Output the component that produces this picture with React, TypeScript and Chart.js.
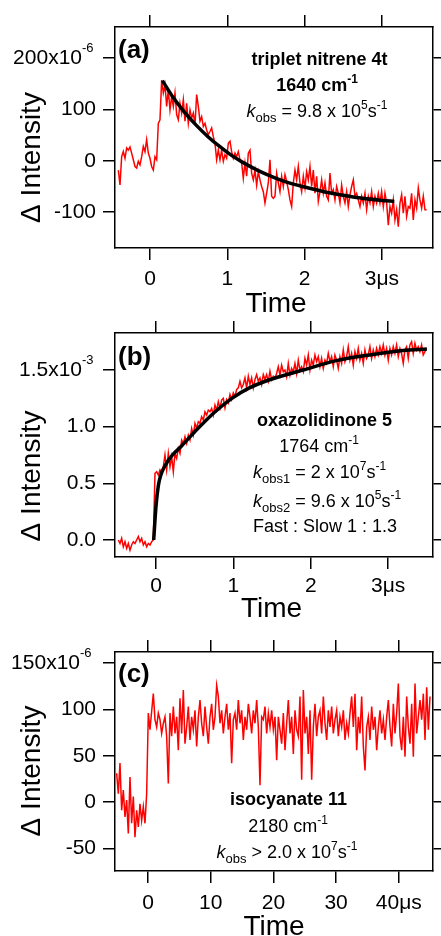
import React, { useEffect, useRef } from 'react';
import { Chart, registerables } from 'chart.js';
Chart.register(...registerables);

const FONT = '"Liberation Sans", Arial, Helvetica, sans-serif';

// ---------------- Panel (a): triplet nitrene 4t ----------------
const A_T0 = -0.41;
const A_DT = 0.02156;
const A_RED = [
  -18, -47, 8, 18, 5, 25, 21, 27, 15, 2,
  -11, -14, -1, -8, 8, 28, 18, 41, 15, 5,
  -11, -18, 8, 2, 73, 80, 157, 132, 148, 106,
  138, 99, 125, 106, 132, 90, 80, 112, 93, 119,
  77, 112, 73, 99, 83, 93, 70, 129, 106, 77,
  86, 67, 73, 60, 51, 57, 64, 47, 34, 2,
  21, 2, 21, -1, 12, 5, 34, 38, 18, 5,
  15, 8, 18, 2, -4, -34, -4, -30, 15, 21,
  -24, -37, -18, -47, -21, -37, -50, -60, -82, -63,
  -43, 2, -69, -73, -69,
  -24, -43, -60, -30, -50, -27, -40, -56, -76, -89,
  -43, -18, -37, -11, -43, -60, -30, -53, -21, -37,
  -11, -50, -18, -63, -30, -79, -60, -37, -63, -43,
  -69, -76, -24, -63, -56, -76, -50, -63, -82, -47,
  -69, -82, -60, -89, -66, -50, -37, -69, -63, -76,
  -89, -69, -82, -63, -95, -69, -82, -60, -89, -69,
  -82, -63, -82, -60, -89, -63, -82, -125, -89, -102,
  -76, -115, -95, -128, -82, -66, -102, -69, -108, -89,
  -92, -63, -115, -76, -92, -53, -76, -92, -69, -95, -95,
];
const A_FIT_T = [0.16, 0.3, 0.45, 0.6, 0.75, 0.9, 1.05, 1.2, 1.4, 1.6, 1.8, 2.0, 2.25, 2.5, 2.75, 3.0, 3.16];
const A_FIT_V = [156, 123, 94, 69, 47, 28, 11, -3, -19, -32, -43, -51, -60, -67, -73, -77, -79];
const A_XTICKS = [0, 1, 2, 3];
const A_YTICKS = [-100, 0, 100, 200];

// ---------------- Panel (b): oxazolidinone 5 (units 1e-3) ----------------
const B_T0 = -0.487;
const B_DT = 0.02153;
const B_RED = [
  0.0, -0.03, 0.015, -0.06, -0.015, -0.074, -0.03, -0.09, -0.044, -0.015,
  -0.03, 0.0, 0.03, -0.015, 0.015, -0.044, -0.015, -0.06, -0.03, -0.044,
  -0.015, 0.0,
  0.588, 0.603, 0.574, 0.618, 0.588, 0.647, 0.75, 0.618, 0.765, 0.647,
  0.735, 0.603, 0.765, 0.721, 0.809, 0.765, 0.882, 0.853, 0.912, 0.853,
  0.926, 0.882, 0.985, 0.926, 1.03, 0.985, 1.044, 1.03, 1.088, 1.059,
  1.132, 1.103, 1.147, 1.132, 1.162, 1.103, 1.191, 1.147, 1.221, 1.162,
  1.235, 1.25, 1.166, 1.24, 1.21, 1.284, 1.24, 1.298, 1.269, 1.328,
  1.343, 1.401, 1.343, 1.372, 1.431, 1.343, 1.446, 1.372, 1.431, 1.343,
  1.416, 1.46, 1.401, 1.431, 1.372, 1.46, 1.416, 1.46, 1.401, 1.49,
  1.416, 1.446, 1.431,
  1.47, 1.529, 1.456, 1.544, 1.485, 1.5, 1.441, 1.558, 1.456, 1.514,
  1.485, 1.558, 1.47, 1.588, 1.5, 1.529, 1.485, 1.603, 1.544, 1.633,
  1.5, 1.588, 1.544, 1.633, 1.574, 1.618, 1.53, 1.603, 1.515, 1.588,
  1.559, 1.647, 1.574, 1.618, 1.53, 1.633, 1.588, 1.515, 1.618, 1.559,
  1.677, 1.574, 1.618, 1.706, 1.588, 1.647, 1.544, 1.662, 1.603, 1.691,
  1.588, 1.647, 1.559, 1.677, 1.603, 1.633, 1.706, 1.603, 1.677, 1.618,
  1.691, 1.633, 1.706, 1.647, 1.721, 1.633, 1.691, 1.588, 1.691, 1.633,
  1.706, 1.647, 1.721, 1.618, 1.691, 1.647, 1.559, 1.677, 1.706, 1.603,
  1.721, 1.75, 1.647, 1.736, 1.677, 1.706, 1.662, 1.721, 1.633, 1.662,
  1.691,
];
const B_FIT_T = [-0.03, 0.0, 0.03, 0.06, 0.12, 0.2, 0.33, 0.55, 0.76, 0.98, 1.2, 1.45, 1.9, 2.33, 2.76, 3.19, 3.5];
const B_FIT_V = [0, 0.3, 0.48, 0.57, 0.66, 0.74, 0.83, 0.99, 1.13, 1.25, 1.34, 1.41, 1.5, 1.583, 1.633, 1.672, 1.686];
const B_XTICKS = [0, 1, 2, 3];
const B_YTICKS = [0, 0.5, 1.0, 1.5];

// ---------------- Panel (c): isocyanate 11 ----------------
const C_T0 = -4.997;
const C_DT = 0.2658;
const C_RED = [
  31, 9, 42, -9, 13, -16, 2, -34, 27, -23,
  6, -38, -9, -27, -2, -20, -5, -23, 9, 96,
  78, 98, 117, 89, 81, 96, 89, 74, 85, 92,
  71, 20, 96, 71, 103, 74, 92, 56, 112, 74,
  121, 63, 81, 103, 67, 92, 78, 99, 60, 92,
  110, 85, 71, 103, 81, 63, 92, 106, 78, 92,
  126, 114, 85, 99, 74, 92, 106, 78, 96, 42,
  89, 96, 78, 110, 85, 99, 67, 92, 78, 106,
  92, 74, 99, 85, 110, 81, 18, 92, 89, 103,
  74, 96, 81, 99, 78, 92,
  45, 92, 78, 63, 96, 56, 85, 110, 74, 92,
  52, 99, 78, 71, 114, 24, 121, 74, 92, 52,
  99, 24, 81, 106, 71, 92, 99, 74, 114, 85,
  67, 99, 81, 103, 74, 89, 99, 71, 92, 81,
  99, 67, 85, 74, 96, 114, 81, 117, 56, 92,
  74, 114, 60, 34, 81, 92, 67, 103, 78, 92,
  56, 81, 99, 74, 89, 67, 92, 110, 81, 60,
  106, 74, 96, 128, 71, 56, 92, 49, 114, 81,
  63, 106, 49, 128, 74, 92, 110, 89, 117, 67,
  124, 78, 114,
];
const C_XTICKS = [0, 10, 20, 30, 40];
const C_YTICKS = [-50, 0, 50, 100, 150];

// ---------------- layout / style ----------------
type Seg = { t: string; size?: number; bold?: boolean; italic?: boolean; dy?: number };
const sup = (t: string, bold = false): Seg => ({ t, size: 12, bold, dy: -8 });
const sub = (t: string): Seg => ({ t, size: 13, dy: 5 });
const txt = (t: string, bold = false): Seg => ({ t, bold });
const kk: Seg = { t: 'k', italic: true };

type TextLine = { segs: Seg[]; x: number; y: number; align: 'left' | 'center' };

type Panel = {
  top: number; height: number; areaTop: number; areaBottom: number;
  xMin: number; xMax: number; yMin: number; yMax: number;
  xTicks: number[]; yTicks: number[]; xPad: number;
  yFmt: (v: number) => string; yTopTick: number; yTopMain: string; yTopExp: string; yTopRight: number;
  red: { x: number; y: number }[]; fit: { x: number; y: number }[] | null;
  letter: string; letterY: number; lines: TextLine[];
  yTitleY: number; timeX: number; timeY: number;
};

const series = (t0: number, dt: number, vals: number[]) => vals.map((v, i) => ({ x: t0 + i * dt, y: v }));
const pairs = (ts: number[], vs: number[]) => ts.map((t, i) => ({ x: t, y: vs[i] }));

const PANELS: Panel[] = [
  {
    top: 0, height: 322, areaTop: 27, areaBottom: 248,
    xMin: -0.453, xMax: 3.661, yMin: -169.6, yMax: 260.4,
    xTicks: A_XTICKS, yTicks: A_YTICKS, xPad: 7,
    yFmt: (v) => String(v), yTopTick: 200, yTopMain: '200x10', yTopExp: '-6', yTopRight: 82,
    red: series(A_T0, A_DT, A_RED), fit: pairs(A_FIT_T, A_FIT_V),
    letter: '(a)', letterY: 58,
    lines: [
      { segs: [txt('triplet nitrene 4t', true)], x: 319.5, y: 65, align: 'center' },
      { segs: [txt('1640 cm', true), sup('-1', true)], x: 317, y: 91, align: 'center' },
      { segs: [kk, sub('obs'), txt(' = 9.8 x 10'), sup('5'), txt('s'), sup('-1')], x: 317, y: 117, align: 'center' },
    ],
    yTitleY: 157.5, timeX: 276, timeY: 312,
  },
  {
    top: 310, height: 312, areaTop: 23, areaBottom: 247,
    xMin: -0.53, xMax: 3.579, yMin: -0.15, yMax: 1.827,
    xTicks: B_XTICKS, yTicks: B_YTICKS, xPad: 5,
    yFmt: (v) => v.toFixed(1), yTopTick: 1.5, yTopMain: '1.5x10', yTopExp: '-3', yTopRight: 82,
    red: series(B_T0, B_DT, B_RED), fit: pairs(B_FIT_T, B_FIT_V),
    letter: '(b)', letterY: 55,
    lines: [
      { segs: [txt('oxazolidinone 5', true)], x: 324.5, y: 116, align: 'center' },
      { segs: [txt('1764 cm'), sup('-1')], x: 319, y: 142, align: 'center' },
      { segs: [kk, sub('obs1'), txt(' = 2 x 10'), sup('7'), txt('s'), sup('-1')], x: 253, y: 168, align: 'left' },
      { segs: [kk, sub('obs2'), txt(' = 9.6 x 10'), sup('5'), txt('s'), sup('-1')], x: 253, y: 197, align: 'left' },
      { segs: [txt('Fast : Slow 1 : 1.3')], x: 253, y: 222, align: 'left' },
    ],
    yTitleY: 166, timeX: 271.5, timeY: 307,
  },
  {
    top: 622, height: 314, areaTop: 30, areaBottom: 249,
    xMin: -5.26, xMax: 45.45, yMin: -74.5, yMax: 162,
    xTicks: C_XTICKS, yTicks: C_YTICKS, xPad: 8,
    yFmt: (v) => String(v), yTopTick: 150, yTopMain: '150x10', yTopExp: '-6', yTopRight: 80,
    red: series(C_T0, C_DT, C_RED), fit: null,
    letter: '(c)', letterY: 60,
    lines: [
      { segs: [txt('isocyanate 11', true)], x: 288.5, y: 183, align: 'center' },
      { segs: [txt('2180 cm'), sup('-1')], x: 288, y: 210, align: 'center' },
      { segs: [kk, sub('obs'), txt(' > 2.0 x 10'), sup('7'), txt('s'), sup('-1')], x: 287, y: 236, align: 'center' },
    ],
    yTitleY: 149, timeX: 274, timeY: 313,
  },
];

const W = 441;
const AREA_LEFT = 115;
const AREA_RIGHT = 433;

function fontOf(s: Seg) {
  return `${s.italic ? 'italic ' : ''}${s.bold ? 'bold ' : ''}${s.size || 18}px ${FONT}`;
}

function drawRich(ctx: CanvasRenderingContext2D, line: TextLine) {
  let w = 0;
  for (const s of line.segs) { ctx.font = fontOf(s); w += ctx.measureText(s.t).width; }
  let cx = line.align === 'left' ? line.x : line.x - w / 2;
  ctx.textAlign = 'left';
  ctx.textBaseline = 'alphabetic';
  for (const s of line.segs) {
    ctx.font = fontOf(s);
    ctx.fillText(s.t, cx, line.y + (s.dy || 0));
    cx += ctx.measureText(s.t).width;
  }
}

function makeTextPlugin(p: Panel) {
  return {
    id: 'panelText',
    afterDraw(chart: any) {
      const ctx: CanvasRenderingContext2D = chart.ctx;
      ctx.save();
      ctx.fillStyle = '#000';
      // top y tick label with exponent
      const py = chart.scales.y.getPixelForValue(p.yTopTick);
      ctx.font = `21px ${FONT}`;
      ctx.textAlign = 'right';
      ctx.textBaseline = 'middle';
      ctx.fillText(p.yTopMain, p.yTopRight, py);
      ctx.font = `13px ${FONT}`;
      ctx.textAlign = 'left';
      ctx.textBaseline = 'alphabetic';
      ctx.fillText(p.yTopExp, p.yTopRight, py - 6);
      // panel letter
      ctx.font = `bold 26px ${FONT}`;
      ctx.fillText(p.letter, 118, p.letterY);
      // annotation lines
      for (const l of p.lines) drawRich(ctx, l);
      // axis titles
      ctx.font = `28px ${FONT}`;
      ctx.textAlign = 'center';
      ctx.textBaseline = 'alphabetic';
      ctx.fillText('Time', p.timeX, p.timeY);
      ctx.save();
      ctx.translate(40, p.yTitleY);
      ctx.rotate(-Math.PI / 2);
      ctx.fillText('\u0394 Intensity', 0, 0);
      ctx.restore();
      ctx.restore();
    },
  };
}

function buildChart(canvas: HTMLCanvasElement, p: Panel) {
  const grid = { display: true, drawOnChartArea: false, drawTicks: true, tickLength: 12, color: '#000', lineWidth: 1.5 };
  const border = { display: true, color: '#000', width: 1.5 };
  const xBase = {
    type: 'linear' as const, min: p.xMin, max: p.xMax, grid, border,
    afterBuildTicks: (s: any) => { s.ticks = p.xTicks.map((v) => ({ value: v })); },
  };
  const yBase = {
    type: 'linear' as const, min: p.yMin, max: p.yMax, grid, border,
    afterBuildTicks: (s: any) => { s.ticks = p.yTicks.map((v) => ({ value: v })); },
  };
  const datasets: any[] = [];
  if (p.fit) {
    datasets.push({
      data: p.fit, borderColor: '#000', borderWidth: 3.5, pointRadius: 0,
      cubicInterpolationMode: 'monotone', xAxisID: 'x', yAxisID: 'y',
    });
  }
  datasets.push({
    data: p.red, borderColor: '#ff0000', borderWidth: 1.5, pointRadius: 0,
    tension: 0, xAxisID: 'x', yAxisID: 'y',
  });
  const last = p.xTicks.length - 1;
  return new Chart(canvas, {
    type: 'line',
    data: { datasets },
    options: {
      animation: false,
      responsive: false,
      devicePixelRatio: 1,
      events: [],
      layout: { padding: 0 },
      plugins: { legend: { display: false }, title: { display: false }, tooltip: { enabled: false } },
      scales: {
        x: {
          ...xBase, position: 'bottom',
          ticks: {
            display: true, padding: p.xPad, color: '#000', maxRotation: 0, autoSkip: false,
            font: { size: 21, family: FONT },
            callback: (v: any, i: number) => `${v}${i === last ? '\u03bcs' : ''}`,
          },
          afterFit: (s: any) => { s.height = p.height - p.areaBottom; },
        },
        x2: {
          ...xBase, position: 'top', ticks: { display: false },
          afterFit: (s: any) => { s.height = p.areaTop; },
        },
        y: {
          ...yBase, position: 'left',
          ticks: {
            display: true, padding: 7, color: '#000', autoSkip: false,
            font: { size: 21, family: FONT },
            callback: (v: any) => (v === p.yTopTick ? '' : p.yFmt(Number(v))),
          },
          afterFit: (s: any) => { s.width = AREA_LEFT; },
        },
        y2: {
          ...yBase, position: 'right', ticks: { display: false },
          afterFit: (s: any) => { s.width = W - AREA_RIGHT; },
        },
      },
    } as any,
    plugins: [makeTextPlugin(p)],
  });
}

function PanelCanvas({ p }: { p: Panel }) {
  const ref = useRef<HTMLCanvasElement | null>(null);
  useEffect(() => {
    if (!ref.current) return;
    const chart = buildChart(ref.current, p);
    return () => chart.destroy();
  }, [p]);
  return (
    <canvas
      ref={ref}
      width={W}
      height={p.height}
      style={{ position: 'absolute', left: 0, top: p.top, width: W, height: p.height }}
    />
  );
}

export default function App() {
  return (
    <div style={{ position: 'absolute', left: 0, top: 0, width: W, height: 936, background: '#fff', overflow: 'hidden' }}>
      {PANELS.map((p, i) => <PanelCanvas key={i} p={p} />)}
    </div>
  );
}
